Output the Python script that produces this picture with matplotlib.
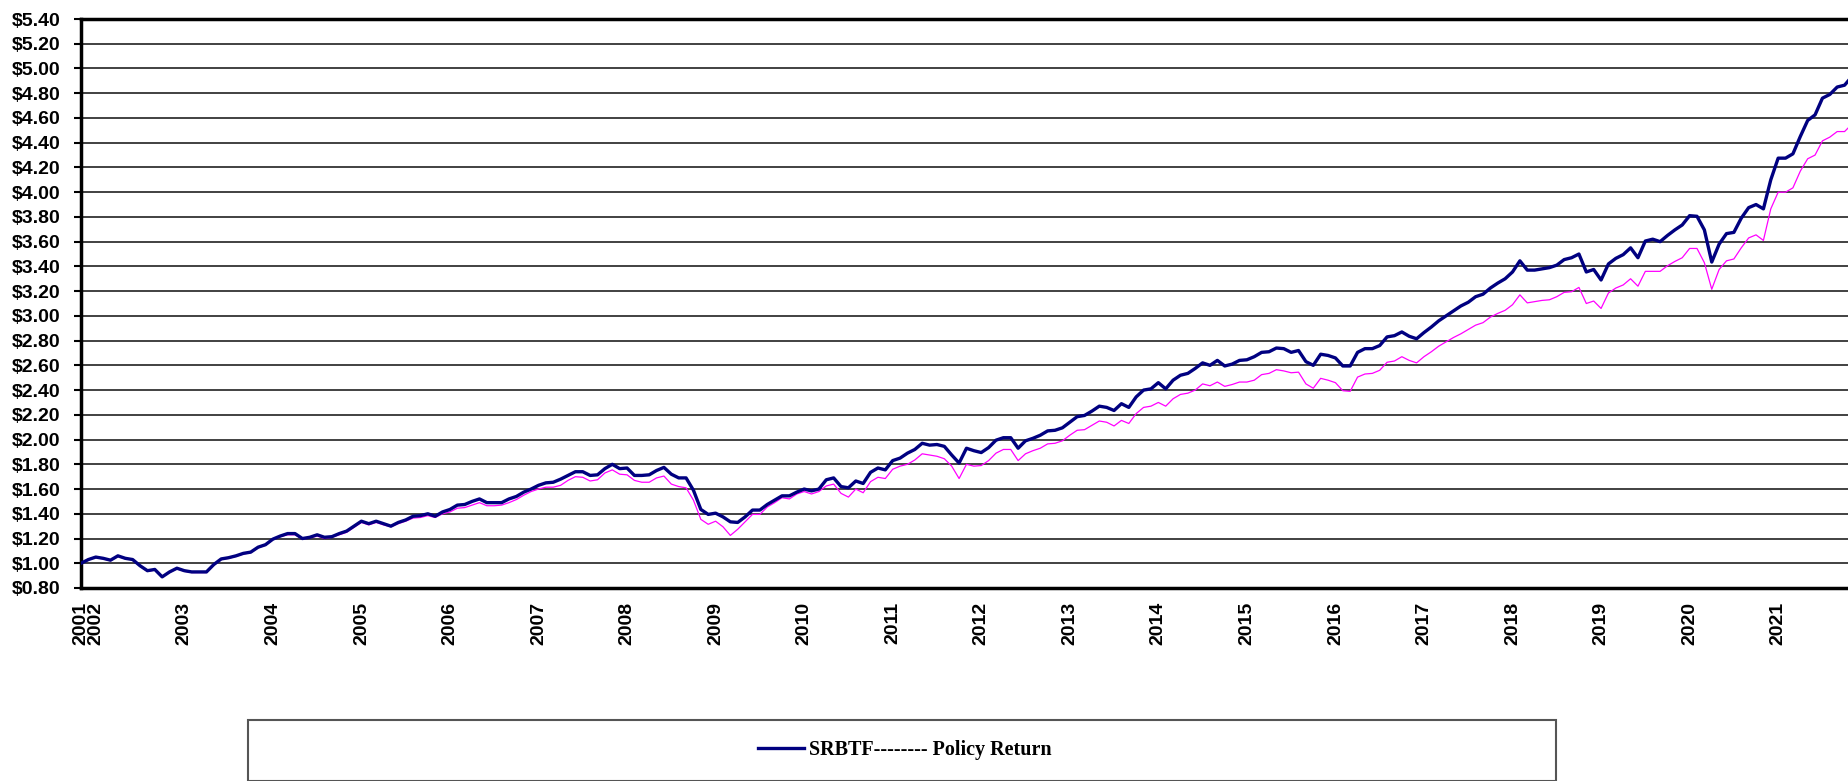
import matplotlib
matplotlib.use("Agg")
import matplotlib.pyplot as plt
import numpy as np
from matplotlib.patches import Rectangle
from matplotlib.lines import Line2D
from matplotlib.ticker import FuncFormatter

# Monthly growth of $1, first point Nov 2001
start_month_offset = 2  # months from first point to first January (Jan 2002)

srbtf = [
    1.00, 1.03, 1.05, 1.04, 1.025, 1.06, 1.04, 1.03, 0.98, 0.94, 0.95, 0.89, 0.93, 0.96, 0.94, 0.93,
    0.93, 0.93, 0.99, 1.035, 1.045, 1.06, 1.08, 1.09, 1.13, 1.15, 1.195, 1.22, 1.24, 1.24, 1.20, 1.21,
    1.23, 1.21, 1.215, 1.24, 1.26, 1.30, 1.34, 1.32, 1.34,
    1.32, 1.30, 1.33, 1.35, 1.38, 1.385, 1.40, 1.38, 1.415, 1.435, 1.47, 1.475, 1.50, 1.52, 1.49,
    1.49, 1.49, 1.52, 1.54, 1.575, 1.60, 1.63, 1.65, 1.655, 1.68, 1.71, 1.74, 1.74, 1.71, 1.715,
    1.765, 1.80, 1.765, 1.77, 1.71, 1.71, 1.715, 1.75, 1.775, 1.72, 1.69,
    1.69, 1.59, 1.435, 1.395, 1.405, 1.375, 1.335, 1.33, 1.375, 1.43, 1.43, 1.475, 1.51, 1.545, 1.545,
    1.575, 1.60, 1.585, 1.60, 1.675, 1.69, 1.62, 1.61, 1.665, 1.645, 1.735, 1.77, 1.755, 1.83, 1.85,
    1.89, 1.92, 1.97, 1.955, 1.96, 1.945, 1.875, 1.81, 1.93, 1.91,
    1.895, 1.935, 1.995, 2.015, 2.015, 1.93, 1.99, 2.01, 2.035, 2.07, 2.075, 2.095, 2.14, 2.185, 2.195,
    2.23, 2.27, 2.26, 2.235, 2.29, 2.26, 2.345, 2.40, 2.41, 2.46, 2.41, 2.48, 2.52, 2.535, 2.575,
    2.62, 2.60, 2.64, 2.595, 2.61, 2.64, 2.645, 2.67, 2.705, 2.71, 2.74,
    2.735, 2.705, 2.72, 2.63, 2.60, 2.69, 2.68, 2.66, 2.595, 2.595, 2.705, 2.735, 2.735, 2.76, 2.83,
    2.84, 2.87, 2.835, 2.815, 2.865, 2.91, 2.96, 3.00, 3.04, 3.08, 3.11, 3.155, 3.175, 3.225, 3.265,
    3.30, 3.355, 3.445, 3.37, 3.37, 3.38, 3.39,
    3.41, 3.455, 3.47, 3.50, 3.355, 3.375, 3.29, 3.42, 3.465, 3.495, 3.55, 3.47, 3.605, 3.62, 3.60,
    3.65, 3.695, 3.735, 3.81, 3.805, 3.695, 3.435, 3.58, 3.665, 3.675, 3.79, 3.875, 3.90, 3.865, 4.10,
    4.275, 4.275, 4.31, 4.45, 4.58, 4.625, 4.76, 4.79, 4.85, 4.865, 4.935,
]

policy = [
    1.00, 1.035, 1.045, 1.035, 1.02, 1.055, 1.035, 1.03, 0.975, 0.935, 0.945, 0.89, 0.925, 0.955, 0.935,
    0.925, 0.925, 0.925, 0.985, 1.03, 1.04, 1.055, 1.075, 1.085, 1.125, 1.145, 1.19, 1.215, 1.23, 1.23,
    1.195, 1.205, 1.22, 1.20, 1.21, 1.23, 1.25, 1.29, 1.33, 1.31, 1.33,
    1.31, 1.295, 1.32, 1.34, 1.365, 1.37, 1.385, 1.37, 1.40, 1.415, 1.445, 1.45, 1.47, 1.49, 1.465,
    1.465, 1.47, 1.49, 1.515, 1.55, 1.58, 1.60, 1.615, 1.615, 1.63, 1.67, 1.70, 1.695, 1.665, 1.675,
    1.73, 1.755, 1.72, 1.715, 1.67, 1.655, 1.655, 1.69, 1.705, 1.64, 1.62,
    1.61, 1.51, 1.355, 1.315, 1.34, 1.295, 1.225, 1.275, 1.335, 1.395, 1.395, 1.455, 1.49, 1.53, 1.52,
    1.56, 1.58, 1.56, 1.58, 1.625, 1.64, 1.565, 1.535, 1.60, 1.57, 1.66, 1.695, 1.685, 1.76, 1.785,
    1.80, 1.835, 1.885, 1.875, 1.865, 1.845, 1.785, 1.685, 1.80, 1.785,
    1.79, 1.83, 1.89, 1.92, 1.92, 1.83, 1.885, 1.91, 1.93, 1.965, 1.97, 1.99, 2.035, 2.075, 2.08,
    2.115, 2.15, 2.14, 2.11, 2.155, 2.13, 2.21, 2.26, 2.27, 2.30, 2.27, 2.33, 2.365, 2.375, 2.40,
    2.45, 2.435, 2.465, 2.43, 2.445, 2.465, 2.465, 2.48, 2.525, 2.535, 2.565,
    2.555, 2.54, 2.545, 2.45, 2.415, 2.495, 2.48, 2.46, 2.395, 2.39, 2.505, 2.53, 2.535, 2.56, 2.625,
    2.635, 2.67, 2.64, 2.62, 2.67, 2.71, 2.755, 2.79, 2.825, 2.855, 2.89, 2.925, 2.945, 2.99, 3.02,
    3.045, 3.09, 3.17, 3.105, 3.115, 3.125, 3.13,
    3.155, 3.19, 3.195, 3.23, 3.10, 3.12, 3.06, 3.185, 3.225, 3.25, 3.30, 3.24, 3.36, 3.36, 3.36,
    3.405, 3.44, 3.47, 3.545, 3.545, 3.43, 3.215, 3.375, 3.445, 3.46, 3.55, 3.63, 3.655, 3.61, 3.865,
    4.00, 4.00, 4.035, 4.17, 4.27, 4.30, 4.415, 4.445, 4.49, 4.49, 4.55,
]

year_labels = ["2001", "2002", "2003", "2004", "2005", "2006", "2007", "2008", "2009", "2010", "2011",
               "2012", "2013", "2014", "2015", "2016", "2017", "2018", "2019", "2020", "2021"]
y_ticks = [0.8, 1.0, 1.2, 1.4, 1.6, 1.8, 2.0, 2.2, 2.4, 2.6, 2.8, 3.0, 3.2, 3.4, 3.6, 3.8, 4.0,
           4.2, 4.4, 4.6, 4.8, 5.0, 5.2, 5.4]
legend_label = "SRBTF-------- Policy Return"

W, H = 1849, 781
fig = plt.figure(figsize=(W / 100, H / 100), dpi=100)
ax = fig.add_axes([81 / W, 1 - 588 / H, (W - 81) / W, (588 - 19) / H])

x = np.arange(len(srbtf))
ax.plot(x, policy, color="#FF00FF", lw=0.9, zorder=3)
ax.plot(x, srbtf, color="#000080", lw=2.4, zorder=4)

ax.set_xlim(0, 239.6)
ax.set_ylim(0.8, 5.4)
ax.set_yticks(y_ticks)
ax.yaxis.set_major_formatter(FuncFormatter(lambda v, p: f"${v:.2f}"))
ax.grid(axis="y", color="#333333", lw=1.3, zorder=1)

xpos = [0] + [start_month_offset + 12 * k for k in range(len(year_labels) - 1)]
ax.set_xticks(xpos)
ax.set_xticklabels(year_labels, rotation=90, va="top", ha="center")

for lab in ax.get_xticklabels() + ax.get_yticklabels():
    lab.set_fontfamily("Liberation Sans")
    lab.set_fontweight("bold")
    lab.set_fontsize(14)

ax.tick_params(axis="x", length=0, pad=10)
ax.tick_params(axis="y", length=5, width=1.5, pad=10, color="black")

for s in ["left", "bottom", "top"]:
    ax.spines[s].set_linewidth(2.5)
    ax.spines[s].set_color("black")
ax.spines["right"].set_visible(False)

# legend box
fig.add_artist(Rectangle((248 / W, 0), (1556 - 248) / W, 1 - 720 / H, transform=fig.transFigure,
                         fill=False, edgecolor="#555555", lw=1.5))
handle = Line2D([], [], color="#000080", lw=2.4)
leg = fig.legend([handle], [legend_label], loc="center", bbox_to_anchor=(905 / W, 1 - 750 / H),
                 frameon=False, handlelength=2.3, handletextpad=0.25,
                 prop={"family": "Liberation Serif", "weight": "bold", "size": 14.5})

fig.savefig("out.png", dpi=100)
